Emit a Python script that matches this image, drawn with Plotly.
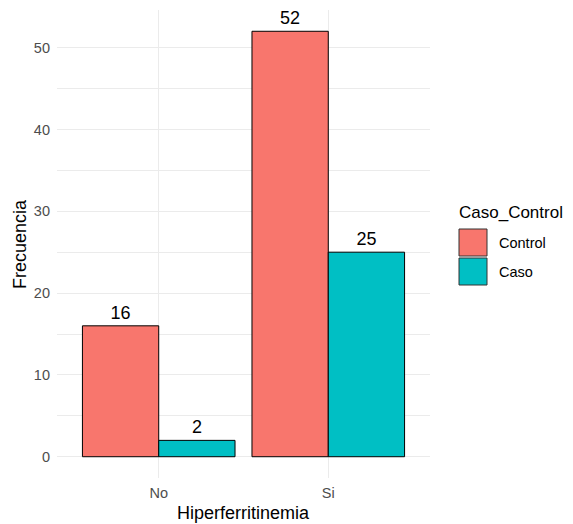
import plotly.graph_objects as go

categories = ["No", "Si"]
groups = ["Control", "Caso"]
control_vals = [16, 52]
caso_vals = [2, 25]
y_ticks = [0, 10, 20, 30, 40, 50]
colors = {"Control": "#F8766D", "Caso": "#00BFC4"}

W, H = 573, 524
L, R, T, B = 57, 430, 10, 478
FONT = "Liberation Sans, Arial"

fig = go.Figure()
for name, vals in [("Control", control_vals), ("Caso", caso_vals)]:
    fig.add_trace(go.Bar(
        x=categories, y=vals, name=name,
        marker=dict(color=colors[name], line=dict(color="black", width=1)),
        text=[str(v) for v in vals], textposition="outside",
        textfont=dict(size=18, color="black", family=FONT),
        cliponaxis=False, showlegend=False,
    ))

def px_x(p):
    return (p - L) / (R - L)

def px_y(p):
    return (B - p) / (B - T)

shapes = []
annotations = []
annotations.append(dict(x=px_x(457), y=px_y(212), xref="paper", yref="paper",
                        text="Caso_Control", showarrow=False, xanchor="left", yanchor="middle",
                        font=dict(size=17, color="black", family=FONT)))
for i, g in enumerate(groups):
    y0 = 229 + i * 29
    shapes.append(dict(type="rect", xref="paper", yref="paper",
                       x0=px_x(459), x1=px_x(487), y0=px_y(y0), y1=px_y(y0 + 27),
                       fillcolor=colors[g], line=dict(color="#333333", width=1)))
    annotations.append(dict(x=px_x(497), y=px_y(y0 + 14), xref="paper", yref="paper",
                            text=g, showarrow=False, xanchor="left", yanchor="middle",
                            font=dict(size=14.5, color="black", family=FONT)))
# axis titles
annotations.append(dict(x=px_x(243.5), y=px_y(513), xref="paper", yref="paper",
                        text="Hiperferritinemia", showarrow=False, xanchor="center", yanchor="middle",
                        font=dict(size=18, color="black", family=FONT)))
annotations.append(dict(x=px_x(20), y=px_y(244), xref="paper", yref="paper",
                        text="Frecuencia", showarrow=False, xanchor="center", yanchor="middle",
                        textangle=-90, font=dict(size=18, color="black", family=FONT)))

fig.update_layout(
    width=W, height=H,
    margin=dict(l=L, r=W - R, t=T, b=H - B),
    paper_bgcolor="white", plot_bgcolor="white",
    barmode="group", bargap=0.1, bargroupgap=0,
    showlegend=False,
    font=dict(family=FONT, color="#4d4d4d"),
    shapes=shapes, annotations=annotations,
    xaxis=dict(
        range=[-0.6, 1.6], showgrid=True, gridcolor="#ebebeb", gridwidth=1.2,
        zeroline=False, showline=False, ticks="", automargin=False,
        ticklabelstandoff=4,
        tickfont=dict(size=14.5, color="#4d4d4d"),
    ),
    yaxis=dict(
        range=[-2.6, 54.6], tickvals=y_ticks, showgrid=True, gridcolor="#ebebeb", gridwidth=1.2,
        minor=dict(tickvals=[5, 15, 25, 35, 45], showgrid=True, gridcolor="#ebebeb", gridwidth=0.6),
        zeroline=False, showline=False, ticks="", automargin=False,
        ticklabelstandoff=6,
        tickfont=dict(size=14.5, color="#4d4d4d"),
    ),
)

fig.write_html("out.html", config={"displayModeBar": False},
               post_script="document.body.style.margin='0';document.body.style.overflow='hidden';")
